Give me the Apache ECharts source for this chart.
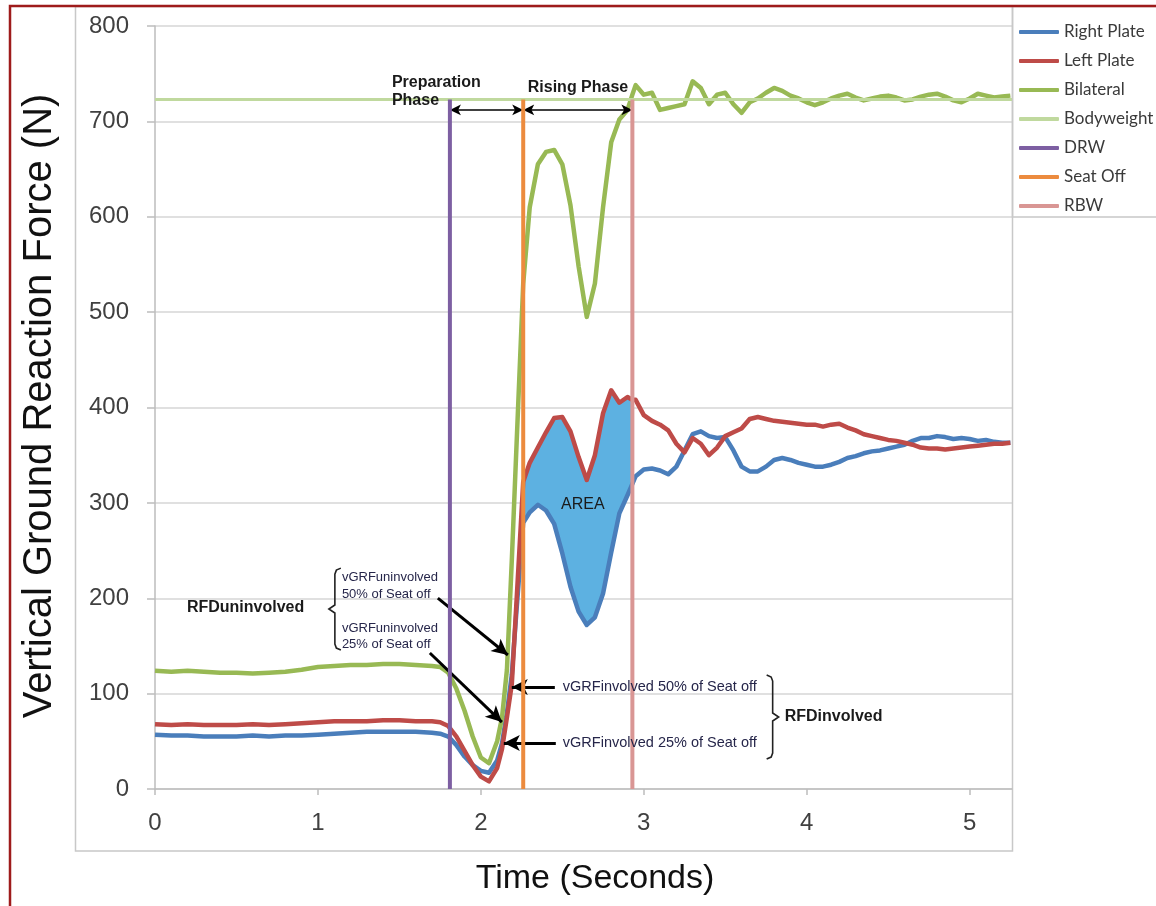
<!DOCTYPE html>
<html>
<head>
<meta charset="utf-8">
<title>Vertical Ground Reaction Force</title>
<script src="https://cdn.jsdelivr.net/npm/echarts@6/dist/echarts.min.js"></script>
<style>
  html, body { margin: 0; padding: 0; background: #fff; }
  #chart { width: 1156px; height: 906px; }
</style>
</head>
<body>
<div id="chart"></div>
<script>
// time samples (s), shared by the three force traces
const time = [
  0, 0.1, 0.2, 0.3, 0.4, 0.5, 0.6, 0.7, 0.8, 0.9, 1.0, 1.1, 1.2, 1.3, 1.4, 1.5, 1.6, 1.7,
  1.75, 1.8, 1.85, 1.9, 1.95, 2.0, 2.05, 2.1, 2.13, 2.16, 2.19, 2.22, 2.26,
  2.3, 2.35, 2.4, 2.45, 2.5, 2.55, 2.6, 2.65, 2.7, 2.75, 2.8, 2.85, 2.9, 2.93,
  2.95, 3.0, 3.05, 3.1, 3.15, 3.2, 3.25, 3.3, 3.35, 3.4, 3.45, 3.5, 3.55, 3.6, 3.65, 3.7,
  3.75, 3.8, 3.85, 3.9, 3.95, 4.0, 4.05, 4.1, 4.15, 4.2, 4.25, 4.3, 4.35, 4.4, 4.45, 4.5,
  4.55, 4.6, 4.65, 4.7, 4.75, 4.8, 4.85, 4.9, 4.95, 5.0, 5.05, 5.1, 5.15, 5.2, 5.25
]

const rightPlate = [
  57, 56, 56, 55, 55, 55, 56, 55, 56, 56, 57, 58, 59, 60, 60, 60, 60, 59,
  58, 55, 46, 34, 25, 19, 17, 30, 48, 80, 120, 190, 279,
  290, 298, 292, 278, 247, 212, 186, 172, 180, 205, 248, 289, 308, 320,
  328, 335, 336, 334, 330, 338, 355, 372, 375, 370, 368, 369, 355, 338, 333, 333,
  338, 345, 347, 345, 342, 340, 338, 338, 340, 343, 347, 349, 352, 354, 355, 357,
  359, 361, 365, 368, 368, 370, 369, 367, 368, 367, 365, 366, 364, 363, 363
]

const leftPlate = [
  68, 67, 68, 67, 67, 67, 68, 67, 68, 69, 70, 71, 71, 71, 72, 72, 71, 71,
  70, 66, 55, 40, 25, 13, 8, 22, 42, 75, 110, 200, 322,
  342, 358, 374, 389, 390, 375, 348, 324, 350, 394, 418, 405, 411, 408,
  408, 392, 386, 382, 376, 362, 353, 368, 362, 350, 358, 370, 374, 378, 388, 390,
  388, 386, 385, 384, 383, 382, 382, 380, 382, 383, 379, 376, 372, 370, 368, 366,
  365, 363, 361, 358, 357, 357, 356, 357, 358, 359, 360, 361, 362, 362, 363
]

const bilateral = [
  124, 123, 124, 123, 122, 122, 121, 122, 123, 125, 128, 129, 130, 130, 131, 131, 130, 129,
  128, 122, 105, 82, 55, 33, 27, 50, 75, 125, 240, 365, 530,
  610, 655, 668, 670, 655, 612, 548, 495, 530, 610, 678, 702, 712, 728,
  738, 728, 730, 712, 714, 716, 718, 742, 735, 718, 728, 730, 718, 709, 720, 724,
  730, 735, 732, 727, 724, 720, 717, 720, 724, 727, 729, 725, 722, 724, 726, 727,
  725, 722, 723, 726, 728, 729, 726, 722, 720, 724, 729, 727, 725, 726, 727
]

const bodyweight = 723
const drwTime = 1.81
const seatOffTime = 2.26
const rbwTime = 2.93

const xMax = 5.26
const yTicks = [0, 100, 200, 300, 400, 500, 600, 700, 800]
const xTicks = [0, 1, 2, 3, 4, 5]

const colors = {
  right: '#4a7ebb', left: '#be4b48', bilateral: '#98b954', bodyweight: '#c0d99e',
  drw: '#7d5fa2', seatOff: '#ec8b3e', rbw: '#d99694', area: '#5db1e1'
}

const FONT = '"Liberation Sans", Arial, sans-serif'

// shaded band between the two plates, seat off -> RBW: [t, right, left]
const areaRows = time
  .map((t, i) => [t, rightPlate[i], leftPlate[i]])
  .filter(r => r[0] >= seatOffTime && r[0] <= rbwTime)

function trace(name, ys, color, width, z) {
  return {
    name, type: 'line', data: time.map((t, i) => [t, ys[i]]),
    symbol: 'none', showSymbol: false, color, z,
    lineStyle: { color, width, join: 'round' }
  }
}

function marker(name, t, color) {
  return {
    name, type: 'line', data: [[t, 0], [t, bodyweight]],
    symbol: 'none', color, z: 6,
    lineStyle: { color, width: 4 }
  }
}

function arrow(from, to, both, size, width) {
  const head = { symbol: 'arrow', symbolSize: size }
  return [
    Object.assign({ coord: from }, both ? head : { symbol: 'none' }),
    Object.assign({ coord: to, lineStyle: { color: '#000', width, type: 'solid' } }, head)
  ]
}

const option = {
  animation: false,
  backgroundColor: '#fff',
  grid: { left: 155, right: 144, top: 26, bottom: 117, containLabel: false },
  xAxis: {
    type: 'value', min: 0, max: xMax, interval: 1,
    axisLine: { lineStyle: { color: '#bdbdbd', width: 1.5 } },
    axisTick: { show: true, length: 6, lineStyle: { color: '#bdbdbd', width: 1.5 } },
    axisLabel: {
      color: '#404040', fontSize: 24, fontFamily: FONT, margin: 22, showMaxLabel: false,
      formatter: v => xTicks.includes(v) ? String(v) : ''
    },
    splitLine: { show: false }
  },
  yAxis: {
    type: 'value', min: 0, max: 800, interval: 100,
    axisLine: { show: true, lineStyle: { color: '#bdbdbd', width: 1.5 } },
    axisTick: { show: true, length: 8, lineStyle: { color: '#bdbdbd', width: 1.5 } },
    axisLabel: {
      color: '#404040', fontSize: 24, fontFamily: FONT, margin: 26,
      formatter: v => yTicks.includes(v) ? String(v) : ''
    },
    splitLine: { lineStyle: { color: '#d6d6d6', width: 1.5 } }
  },
  legend: {
    orient: 'vertical', left: 1014, top: 17,
    itemWidth: 40, itemHeight: 4, itemGap: 9, icon: 'roundRect',
    selectedMode: false,
    data: ['Right Plate', 'Left Plate', 'Bilateral', 'Bodyweight', 'DRW', 'Seat Off', 'RBW'],
    textStyle: { color: '#3a3a3a', fontSize: 17, fontFamily: 'Lato, sans-serif', lineHeight: 20 }
  },
  series: [
    {
      name: 'AREA', type: 'custom', z: 1, silent: true, clip: true,
      data: areaRows,
      encode: { x: 0, y: [1, 2] },
      renderItem: (params, api) => {
        if (params.dataIndex !== 0) return null
        const top = areaRows.map(r => api.coord([r[0], r[2]]))
        const bottom = areaRows.map(r => api.coord([r[0], r[1]])).reverse()
        return {
          type: 'polygon',
          shape: { points: top.concat(bottom) },
          style: { fill: colors.area }
        }
      }
    },
    trace('Right Plate', rightPlate, colors.right, 4.5, 3),
    trace('Left Plate', leftPlate, colors.left, 4.5, 3),
    trace('Bilateral', bilateral, colors.bilateral, 4.5, 3),
    {
      name: 'Bodyweight', type: 'line', data: [[0, bodyweight], [xMax, bodyweight]],
      symbol: 'none', color: colors.bodyweight, z: 4,
      lineStyle: { color: colors.bodyweight, width: 3 }
    },
    marker('DRW', drwTime, colors.drw),
    marker('Seat Off', seatOffTime, colors.seatOff),
    marker('RBW', rbwTime, colors.rbw),
    {
      name: 'arrows', type: 'line', data: [], z: 8,
      markLine: {
        silent: true, animation: false,
        label: { show: false },
        lineStyle: { color: '#000', width: 3, type: 'solid' },
        data: [
          arrow([drwTime, 712], [seatOffTime, 712], true, [8, 11], 1.6),
          arrow([seatOffTime, 712], [rbwTime, 712], true, [8, 11], 1.6),
          arrow([1.736, 200.2], [2.166, 140.5], false, [12, 16], 3),
          arrow([1.687, 142.6], [2.129, 70.2], false, [12, 16], 3),
          arrow([2.454, 106.9], [2.19, 106.9], false, [12, 16], 3),
          arrow([2.46, 48.2], [2.141, 48.2], false, [12, 16], 3)
        ]
      }
    }
  ]
}

const chart = echarts.init(document.getElementById('chart'), null, { renderer: 'canvas' })
chart.setOption(option)

function P(t, v) { return chart.convertToPixel({ gridIndex: 0 }, [t, v]) }

function note(text, t, v, font, extra) {
  const [x, y] = P(t, v)
  return {
    type: 'text', x, y, z: 20,
    style: Object.assign({ text, font, fill: '#1a1a1a', align: 'left', verticalAlign: 'middle' }, extra || {})
  }
}

function brace(t, vTop, vBot, vNub, dir) {
  const [x, yTop] = P(t, vTop)
  const yBot = P(t, vBot)[1]
  const yNub = P(t, vNub)[1]
  return {
    type: 'polyline', z: 20,
    shape: {
      points: [
        [x + 6 * dir, yTop], [x + 1.5 * dir, yTop + 2], [x, yTop + 6],
        [x, yNub - 4], [x - 6 * dir, yNub], [x, yNub + 4],
        [x, yBot - 6], [x + 1.5 * dir, yBot - 2], [x + 6 * dir, yBot]
      ]
    },
    style: { stroke: '#222', lineWidth: 1.6, fill: null }
  }
}

const bold16 = 'bold 16px ' + FONT
const small13 = '13px ' + FONT
const mid = '14.5px ' + FONT

chart.setOption({
  graphic: [
    // frames
    { type: 'rect', z: 0, silent: true, shape: { x: 75.5, y: 6.5, width: 937, height: 844.5 },
      style: { fill: null, stroke: '#c8c8c8', lineWidth: 1.5 } },
    { type: 'rect', z: 0, silent: true, shape: { x: 1012.5, y: 6.5, width: 160, height: 210.5 },
      style: { fill: null, stroke: '#c8c8c8', lineWidth: 1.5 } },
    { type: 'polyline', z: 30, silent: true, shape: { points: [[10, 906], [10, 6], [1156, 6]] },
      style: { stroke: '#9e1b1b', lineWidth: 2.5, fill: null } },
    // axis titles
    { type: 'text', x: 40, y: 406, rotation: Math.PI / 2,
      style: { text: 'Vertical Ground Reaction Force (N)', font: '40px ' + FONT, fill: '#111', align: 'center', verticalAlign: 'middle' } },
    { type: 'text', x: 595, y: 879,
      style: { text: 'Time (Seconds)', font: '34px ' + FONT, fill: '#111', align: 'center', verticalAlign: 'middle' } },
    // phase labels
    note('Preparation\nPhase', 1.454, 731.7, bold16, { lineHeight: 18 }),
    note('Rising Phase', 2.288, 735.8, bold16),
    // uninvolved side
    note('RFDuninvolved', 0.196, 189.7, bold16),
    brace(1.104, 231.6, 145.7, 188.7, 1),
    note('vGRFuninvolved\n50% of Seat off', 1.147, 212.8, small13, { lineHeight: 17, fill: '#26264a' }),
    note('vGRFuninvolved\n25% of Seat off', 1.147, 160.4, small13, { lineHeight: 16, fill: '#26264a' }),
    // involved side
    note('vGRFinvolved 50% of Seat off', 2.503, 106.9, mid, { fill: '#26264a' }),
    note('vGRFinvolved 25% of Seat off', 2.503, 48.2, mid, { fill: '#26264a' }),
    brace(3.791, 119.5, 31.4, 75.5, -1),
    note('RFDinvolved', 3.865, 75.5, bold16),
    // area label
    note('AREA', 2.626, 297.7, '16px ' + FONT, { align: 'center' })
  ]
})
</script>
</body>
</html>
